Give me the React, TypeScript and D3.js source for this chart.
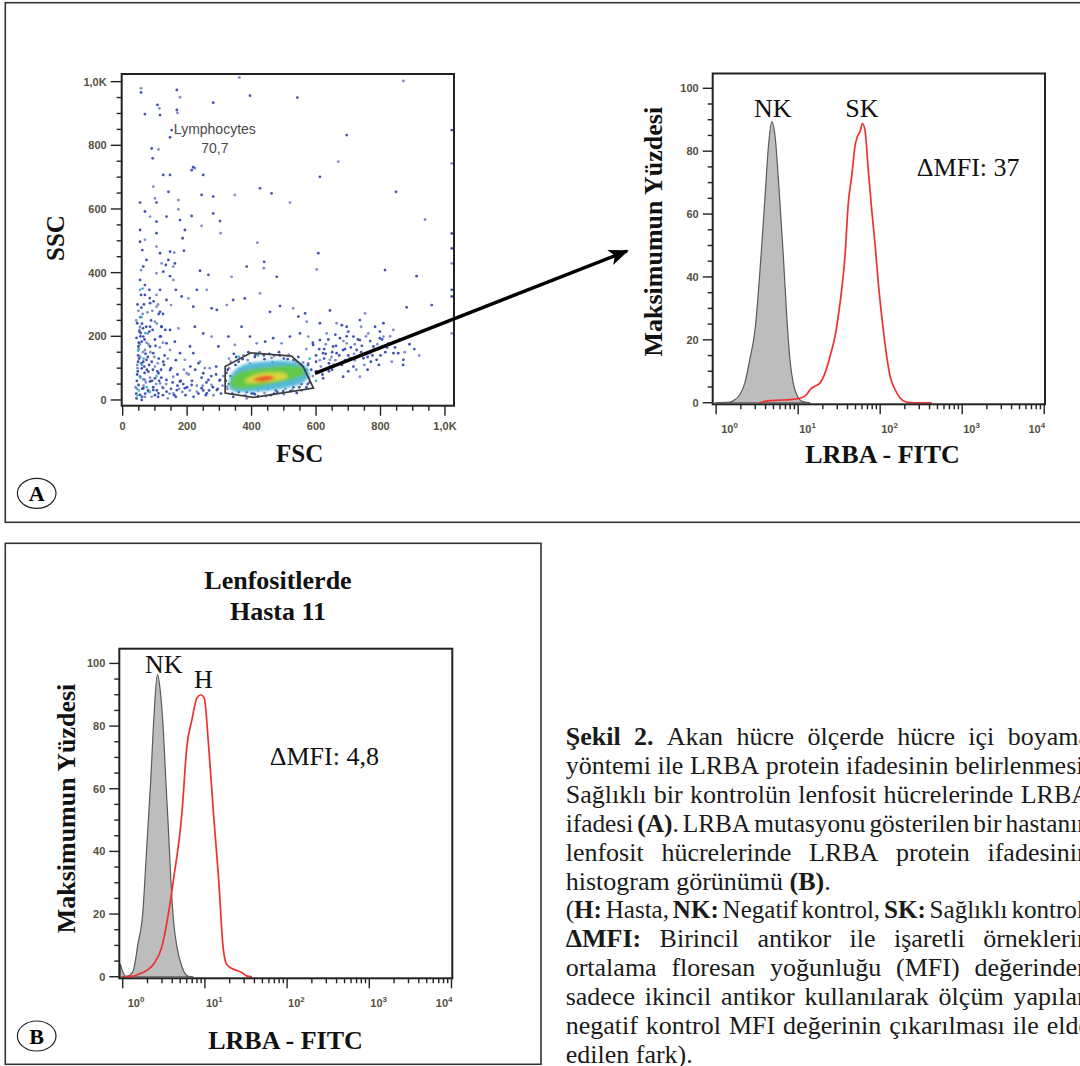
import React, { useEffect, useRef } from 'react';
import * as d3 from 'd3';

type Pt = [number, number];

// ---- scatter (FSC, SSC) events ----
const eventsBlue: Pt[] = [
  [57, 979], [57, 966], [168, 974], [178, 951], [69, 898], [108, 927], [114, 916], [116, 895], [168, 911], [170, 902],
  [147, 825], [90, 790], [111, 787], [152, 848], [281, 934], [362, 1013], [395, 956], [542, 950], [871, 1002], [93, 759],
  [219, 731], [224, 728], [214, 722], [250, 707], [95, 670], [126, 707], [147, 707], [100, 633], [105, 620], [142, 654],
  [173, 628], [245, 644], [281, 639], [348, 644], [426, 665], [462, 649], [519, 620], [612, 701], [695, 832], [669, 749],
  [848, 654], [1021, 848], [1021, 743], [54, 620], [69, 592], [85, 576], [105, 560], [54, 534], [69, 503], [105, 524],
  [136, 576], [173, 599], [178, 565], [214, 578], [245, 547], [281, 586], [302, 562], [304, 524], [186, 508], [193, 534],
  [418, 494], [54, 497], [61, 471], [105, 482], [116, 461], [147, 466], [160, 463], [190, 469], [142, 440], [121, 429],
  [134, 424], [162, 429], [157, 419], [74, 440], [64, 419], [57, 408], [54, 377], [69, 361], [105, 398], [126, 403],
  [147, 389], [157, 377], [240, 406], [266, 393], [338, 387], [385, 419], [439, 434], [438, 414], [478, 387], [607, 461],
  [602, 410], [814, 408], [912, 389], [938, 567], [1021, 523], [1021, 476], [1021, 429], [1021, 346], [1021, 325],
  [54, 346], [69, 330], [83, 346], [105, 330], [116, 346], [85, 304], [105, 293], [116, 277], [136, 314], [150, 298],
  [165, 346], [183, 325], [204, 319], [219, 293], [230, 346], [261, 346], [276, 288], [292, 283], [323, 298], [343, 314],
  [379, 319], [426, 335], [457, 277], [488, 295], [529, 288], [545, 262], [566, 272], [571, 246], [612, 241], [643, 281],
  [664, 241], [695, 230], [736, 251], [752, 272], [783, 230], [809, 241], [840, 220], [881, 291], [959, 298], [1021, 209],
  [871, 126], [855, 147], [809, 199], [798, 215],
  [45, 241], [54, 230], [52, 215], [64, 199], [77, 209], [59, 183], [49, 168], [69, 157], [85, 168], [95, 147],
  [54, 136], [64, 120], [74, 126], [45, 110], [59, 99], [80, 89], [100, 105], [111, 84], [54, 73], [69, 63],
  [85, 58], [100, 68], [116, 52], [49, 47], [64, 37], [80, 26], [95, 31], [111, 21], [126, 37], [136, 26],
  [54, 16], [69, 10], [43, 5], [59, 0], [90, 10], [116, 199], [136, 178], [147, 157], [162, 183], [178, 147],
  [193, 126], [209, 168], [219, 147], [240, 120], [250, 84], [266, 63], [199, 84], [178, 58], [168, 31], [157, 21],
  [193, 37], [214, 47], [230, 26], [245, 37], [261, 21], [276, 47], [292, 31], [302, 63], [323, 42], [126, 120],
  [147, 94], [157, 73], [136, 63], [85, 230], [100, 246], [121, 230], [147, 220], [173, 225], [224, 230], [250, 209],
  [276, 199], [297, 168], [328, 199], [348, 173], [369, 230], [395, 199], [416, 178], [442, 183], [467, 194], [493, 178],
  [519, 199], [550, 209], [576, 199], [591, 173], [612, 188], [633, 209], [653, 168], [674, 194], [695, 178], [716, 199],
  [736, 188], [762, 209], [778, 168], [798, 194], [824, 178], [840, 147], [622, 147], [643, 126], [664, 147], [684, 157],
  [705, 131], [726, 157], [747, 131], [767, 147], [788, 126], [684, 73], [736, 73], [529, 68], [550, 94], [576, 115],
  [602, 89], [622, 68], [643, 105], [716, 105], [343, 10], [385, 5], [364, 37], [405, 21],
  [330, 130], [345, 145], [360, 120], [375, 140], [390, 150], [410, 135], [425, 150], [440, 128], [455, 145], [470, 138],
  [485, 150], [500, 130], [515, 142], [530, 125], [545, 135], [560, 118], [575, 110], [585, 95], [590, 75], [580, 55],
  [570, 40], [555, 30], [540, 22], [520, 28], [500, 18], [480, 25], [460, 15], [440, 22], [420, 12], [400, 20],
  [380, 15], [360, 25], [340, 20], [325, 35], [320, 60], [322, 85], [330, 100], [350, 110], [365, 95], [395, 115],
  [430, 110], [465, 118], [495, 112], [525, 108], [550, 100], [565, 80], [555, 50], [530, 40], [505, 35], [475, 30],
  [450, 35], [420, 30], [395, 35], [370, 40], [345, 55], [335, 75], [600, 120], [615, 105], [625, 130], [640, 115],
  [660, 125], [680, 110], [700, 140], [720, 125], [740, 150], [760, 135], [780, 160], [800, 140], [820, 165], [720, 175],
  [690, 160], [650, 150], [750, 110], [770, 120], [610, 160], [630, 175], [660, 205], [700, 215], [740, 230], [680, 235],
  [630, 145], [600, 90], [620, 80], [650, 95], [300, 60], [290, 80], [280, 40], [310, 45], [260, 55], [250, 30],
  [230, 45], [215, 60], [200, 40], [185, 25], [170, 45], [150, 35], [135, 50], [120, 70], [125, 15], [140, 5],
  [160, 15], [180, 60], [205, 80], [225, 95], [245, 70], [270, 100],
  [42, 20], [44, 60], [46, 100], [48, 140], [50, 180], [52, 220], [55, 260], [58, 290], [40, 40], [45, 80],
  [48, 120], [50, 160], [55, 200], [60, 240], [62, 270], [66, 300], [70, 20], [72, 55], [75, 95], [78, 135],
  [80, 175], [83, 215], [88, 250], [92, 280], [96, 310], [100, 15], [104, 50], [108, 90], [112, 130], [115, 165],
  [118, 200], [60, 10], [65, 45], [68, 85], [58, 115], [63, 150], [68, 190], [73, 230], [42, 250], [46, 300],
  [100, 190], [106, 240], [112, 270], [120, 230], [125, 180], [130, 140], [90, 120], [85, 70], [95, 40], [110, 10],
  [44, 35], [47, 90], [51, 130], [53, 175], [56, 210], [61, 35], [64, 65], [67, 105], [71, 145], [74, 180],
  [79, 30], [82, 110], [86, 150], [91, 60], [94, 95], [98, 135], [102, 170], [106, 30], [109, 115], [113, 60],
  [119, 95], [124, 40], [128, 110], [43, 195], [49, 280], [57, 330], [63, 225], [77, 275], [84, 320], [93, 220],
  [110, 300], [125, 270], [132, 220],
  [145, 20], [155, 55], [165, 10], [175, 35], [188, 50], [195, 15], [208, 30], [220, 10], [235, 20], [248, 45],
  [258, 15], [268, 30], [282, 15], [295, 35], [305, 20], [312, 75], [290, 105], [275, 75], [255, 100], [235, 115],
  [210, 105], [190, 95], [170, 80], [150, 100], [140, 130], [165, 125],
  [600, 140], [612, 125], [625, 160], [638, 190], [648, 135], [662, 170], [672, 140], [685, 185], [695, 200], [708, 165],
  [718, 145], [730, 190], [742, 170], [755, 200], [768, 185], [775, 140], [790, 175], [805, 190], [815, 150], [830, 200],
  [845, 165], [860, 190], [875, 150], [890, 175], [905, 160], [920, 140], [655, 110], [690, 125], [725, 95], [760, 95],
  [795, 110], [835, 120], [870, 110], [590, 180], [570, 160], [640, 90], [700, 90],
  [335, 120], [352, 135], [372, 128], [388, 125], [412, 142], [438, 140], [462, 132], [488, 140], [512, 128], [538, 118],
  [552, 112], [570, 95], [578, 70], [574, 50], [548, 40], [526, 32], [498, 28], [470, 20], [445, 12], [410, 18],
  [385, 25], [355, 32], [330, 50], [326, 95],
];
const eventsCyan: Pt[] = [
  [50, 30], [55, 70], [60, 110], [48, 155], [65, 130], [75, 40], [58, 260], [70, 210], [45, 15], [85, 25],
  [105, 75], [62, 350], [340, 70], [600, 60], [580, 130], [420, 140], [360, 135],
];
// density levels of the lymphocyte cluster (FSC, SSC outlines)
const densityCyan: Pt[] = [[330, 40], [340, 85], [380, 112], [450, 122], [520, 122], [565, 108], [580, 80], [560, 55], [510, 38], [440, 28], [380, 25], [340, 28]];
const densityGreen: Pt[] = [[335, 45], [345, 75], [390, 95], [450, 103], [520, 108], [560, 100], [565, 82], [530, 66], [470, 52], [410, 40], [360, 35]];
const densityYellow: Pt[] = [[378, 58], [405, 78], [455, 86], [500, 85], [512, 74], [490, 63], [440, 56], [395, 53]];
const densityRed: Pt[] = [[405, 63], [425, 73], [455, 76], [472, 70], [455, 62], [425, 59]];
const lymphGate: Pt[] = [[318, 105], [398, 148], [524, 138], [560, 105], [592, 37], [405, 8], [318, 22]];
const gateName = 'Lymphocytes';
const gatePercent = '70,7';
const scatterTicks = [0, 200, 400, 600, 800, 1000];
const scatterTickLabels = ['0', '200', '400', '600', '800', '1,0K'];

// ---- histograms (LRBA-FITC intensity, % of max) ----
const nkA: Pt[] = [
  [0.95, 0], [1.48, 0.2], [1.7, 1.0], [1.95, 2.6], [2.24, 6.3], [2.57, 13.7], [2.98, 23.2], [3.43, 42.3], [3.95, 65.6],
  [4.34, 81.5], [4.76, 89.4], [5.24, 84.6], [5.75, 70.9], [6.6, 46.6], [7.26, 27.5], [7.94, 13.7], [8.7, 6.3],
  [9.6, 2.6], [11, 0.5], [14, 0],
];
const skA: Pt[] = [
  [3.4, 0], [4.1, 0.5], [6.0, 0.8], [8.0, 1.0], [11.0, 1.6], [12.7, 2.6], [14.0, 4.2], [16.1, 5.3], [18.5, 6.3],
  [21.3, 9.5], [24.5, 14.8], [28.2, 21.2], [32.4, 31.7], [37.2, 46.5], [40.9, 63.5], [45.0, 72], [49.3, 81.5],
  [52.6, 84.6], [56.8, 86.2], [60.6, 88.8], [65.3, 86.7], [71.7, 74], [78.8, 61.4], [86.4, 50.8], [94.9, 38.1],
  [109, 23.3], [120, 14.8], [132, 8.5], [152, 4.2], [174, 1.6], [210, 0.2], [253, 0], [425, 0],
];
const nkB: Pt[] = [
  [0.93, 4.2], [1.0, 1.6], [1.1, 0.1], [1.23, 0.6], [1.35, 2.1], [1.43, 5.3], [1.51, 9.6], [1.75, 20.2], [1.96, 41.5],
  [2.19, 62.8], [2.41, 84.1], [2.64, 96.5], [2.85, 91.7], [3.13, 77.8], [3.34, 62.8], [3.6, 46.8], [3.85, 30.9],
  [4.14, 18.1], [4.56, 9.6], [5.25, 3.2], [6.31, 0.1], [7.26, 0],
];
const hB: Pt[] = [
  [1.0, 0], [1.35, 0.2], [1.63, 1.0], [1.96, 2.0], [2.41, 4.2], [2.99, 9.6], [3.6, 20.2], [4.14, 30.9], [5.25, 52.2],
  [6.03, 73.5], [6.94, 82.0], [7.99, 89.0], [8.93, 90.0], [9.8, 89.0], [11.1, 73.5], [12.7, 52.2], [14.7, 30.9],
  [16.6, 9.6], [18.2, 4.2], [21.3, 2.6], [24.5, 2.0], [28.3, 1.3], [32.5, 0.2], [37.4, 0],
];
const histYTicks = [0, 20, 40, 60, 80, 100];
const histXDecades = [1, 10, 100, 1000, 10000];

const captionLines = [
  { text: '{Şekil} {2.} Akan hücre ölçerde hücre içi boyama', justify: true },
  { text: 'yöntemi ile LRBA protein ifadesinin belirlenmesi.', justify: true },
  { text: 'Sağlıklı bir kontrolün lenfosit hücrelerinde LRBA', justify: true },
  { text: 'ifadesi {(A)}. LRBA mutasyonu gösterilen bir hastanın', justify: true },
  { text: 'lenfosit hücrelerinde LRBA protein ifadesinin', justify: true },
  { text: 'histogram görünümü {(B)}.', justify: false },
  { text: '({H:} Hasta, {NK:} Negatif kontrol, {SK:} Sağlıklı kontrol,', justify: true },
  { text: '{ΔMFI:} Birincil antikor ile işaretli örneklerin', justify: true },
  { text: 'ortalama floresan yoğunluğu (MFI) değerinden', justify: true },
  { text: 'sadece ikincil antikor kullanılarak ölçüm yapılan', justify: true },
  { text: 'negatif kontrol MFI değerinin çıkarılması ile elde', justify: true },
  { text: 'edilen fark).', justify: false },
];

const SERIF = '"Liberation Serif", "Times New Roman", serif';
const SANS = '"Liberation Sans", Arial, sans-serif';
const TICK_TXT = '#54503e';
const INK = '#222';

function ScatterPanel() {
  const x = d3.scaleLinear().domain([-3, 1028]).range([121.7, 454]);
  const y = d3.scaleLinear().domain([-18, 1024]).range([405.7, 74]);
  const [x0, x1] = x.range();
  const [yb, yt] = y.range();
  const minor = d3.range(0, 1001, 50);
  const blob = d3.line<Pt>().x(d => x(d[0])).y(d => y(d[1])).curve(d3.curveCatmullRomClosed);
  const gate = d3.line<Pt>().x(d => x(d[0])).y(d => y(d[1])).curve(d3.curveLinearClosed);
  const levels: [Pt[], string][] = [
    [densityCyan, '#55b8d8'], [densityGreen, '#62c848'], [densityYellow, '#d9d83a'], [densityRed, '#ec4a26'],
  ];
  return (
    <g>
      <defs>
        <filter id="soft" x="-20%" y="-50%" width="140%" height="200%">
          <feGaussianBlur stdDeviation="1.8" />
        </filter>
      </defs>
      {eventsBlue.map((d, i) => (
        <circle key={i} cx={x(d[0])} cy={y(d[1])} r={1.4} fill="#2b43a8" opacity={i % 3 === 0 ? 0.6 : 0.9} />
      ))}
      {eventsCyan.map((d, i) => (
        <circle key={i} cx={x(d[0])} cy={y(d[1])} r={1.4} fill="#3fb6d0" />
      ))}
      <g filter="url(#soft)">
        {levels.map(([pts, c], i) => <path key={i} d={blob(pts) || ''} fill={c} />)}
      </g>
      <path d={gate(lymphGate) || ''} fill="none" stroke="#3c3c3c" strokeWidth={1.7} />
      <text x={x(286)} y={134} textAnchor="middle" fontFamily={SANS} fontSize={14} fill="#4a4a4a">{gateName}</text>
      <text x={x(286)} y={153.3} textAnchor="middle" fontFamily={SANS} fontSize={14} fill="#4a4a4a">{gatePercent}</text>
      <rect x={x0} y={yt} width={x1 - x0} height={yb - yt} fill="none" stroke={INK} strokeWidth={2} />
      {minor.map(v => {
        const major = v % 200 === 0;
        return (
          <g key={v}>
            <line x1={x0 - (major ? 11 : 5)} x2={x0} y1={y(v)} y2={y(v)} stroke={INK} strokeWidth={1.4} />
            <line x1={x(v)} x2={x(v)} y1={yb} y2={yb + (major ? 10 : 5)} stroke={INK} strokeWidth={1.4} />
          </g>
        );
      })}
      {scatterTicks.map((v, i) => (
        <g key={v} fontFamily={SANS} fontSize={11} fontWeight="bold" fill={TICK_TXT}>
          <text x={x0 - 15} y={y(v) + 4} textAnchor="end">{scatterTickLabels[i]}</text>
          <text x={x(v)} y={430} textAnchor="middle">{scatterTickLabels[i]}</text>
        </g>
      ))}
      <text x={299.7} y={461.7} textAnchor="middle" fontFamily={SERIF} fontWeight="bold" fontSize={25} fill="#111">FSC</text>
      <text transform="translate(64,238) rotate(-90)" textAnchor="middle" fontFamily={SERIF} fontWeight="bold" fontSize={25} fill="#111">SSC</text>
    </g>
  );
}

type HistProps = {
  left: number; top: number; width: number; height: number;
  neg: Pt[]; pos: Pt[];
  negLabel: string; posLabel: string;
  negAt: Pt; posAt: Pt; mfi: string; mfiAt: Pt;
  yLabelAt: Pt; xLabelAt: Pt;
};

function Histogram(p: HistProps) {
  const x = d3.scaleLog().domain([10 ** -0.042, 10 ** 4.01]).range([p.left, p.left + p.width]);
  const y = d3.scaleLinear().domain([-0.5, 104.7]).range([p.top + p.height, p.top]);
  const area = d3.area<Pt>().x(d => x(d[0])).y0(y(0)).y1(d => y(d[1])).curve(d3.curveMonotoneX);
  const line = d3.line<Pt>().x(d => x(d[0])).y(d => y(d[1])).curve(d3.curveMonotoneX);
  const yMinor = d3.range(0, 101, 5);
  const xMinor = histXDecades.slice(0, -1).flatMap(d => d3.range(2, 10).map(k => d * k));
  const x0 = p.left, yb = p.top + p.height;
  return (
    <g>
      <path d={area(p.neg) || ''} fill="#bdbdbd" stroke="#5a5a5a" strokeWidth={1.2} />
      <path d={line(p.pos) || ''} fill="none" stroke="#f03030" strokeWidth={1.7} />
      <rect x={p.left} y={p.top} width={p.width} height={p.height} fill="none" stroke={INK} strokeWidth={2} />
      {yMinor.map(v => (
        <line key={v} x1={x0 - (v % 20 === 0 ? 10 : 5)} x2={x0} y1={y(v)} y2={y(v)} stroke={INK} strokeWidth={1.4} />
      ))}
      {histYTicks.map(v => (
        <text key={v} x={x0 - 14} y={y(v) + 4} textAnchor="end" fontFamily={SANS} fontSize={11} fontWeight="bold" fill={TICK_TXT}>{v}</text>
      ))}
      {xMinor.map(v => (
        <line key={v} x1={x(v)} x2={x(v)} y1={yb} y2={yb + 5} stroke={INK} strokeWidth={1.4} />
      ))}
      {histXDecades.map((v, i) => {
        const last = i === histXDecades.length - 1;
        const tx = x(v) + (i === 0 ? 5 : 1);
        return (
          <g key={v}>
            <line x1={x(v)} x2={x(v)} y1={yb} y2={yb + 10} stroke={INK} strokeWidth={1.4} />
            <text x={tx} y={yb + 29} textAnchor={last ? 'end' : 'start'} fontFamily={SANS} fontSize={11} fontWeight="bold" fill={TICK_TXT}>
              10<tspan dy={-5} fontSize={8}>{Math.round(Math.log10(v))}</tspan>
            </text>
          </g>
        );
      })}
      <g fontFamily={SERIF} fontSize={26} fill="#111">
        <text x={x(p.negAt[0])} y={y(p.negAt[1])} textAnchor="middle">{p.negLabel}</text>
        <text x={x(p.posAt[0])} y={y(p.posAt[1])} textAnchor="middle">{p.posLabel}</text>
        <text x={x(p.mfiAt[0])} y={y(p.mfiAt[1])}>{p.mfi}</text>
      </g>
      <g fontFamily={SERIF} fontWeight="bold" fontSize={26} fill="#111">
        <text transform={`translate(${p.yLabelAt[0]},${p.yLabelAt[1]}) rotate(-90)`} textAnchor="middle">Maksimumun Yüzdesi</text>
        <text x={p.xLabelAt[0]} y={p.xLabelAt[1]} textAnchor="middle">LRBA - FITC</text>
      </g>
    </g>
  );
}

function parseWord(w: string) {
  const runs: { t: string; b: boolean }[] = [];
  const re = /\{([^}]*)\}|([^{]+)/g;
  let m: RegExpExecArray | null;
  while ((m = re.exec(w))) {
    if (m[1] !== undefined) runs.push({ t: m[1], b: true });
    else runs.push({ t: m[2], b: false });
  }
  return runs;
}

function Caption() {
  const ref = useRef<SVGGElement>(null);
  const left = 565.7, right = 1090, top = 745.3, lead = 28.85;
  useEffect(() => {
    if (!ref.current) return;
    const root = d3.select(ref.current);
    root.selectAll('*').remove();
    captionLines.forEach((ln, i) => {
      const g = root.append('g');
      const words = ln.text.split(' ');
      const nodes = words.map(w => {
        const t = g.append('text')
          .attr('font-family', SERIF).attr('font-size', 26).attr('fill', '#1a1a1a');
        parseWord(w).forEach(r => {
          t.append('tspan').attr('font-weight', r.b ? 'bold' : 'normal').text(r.t);
        });
        return t;
      });
      const widths = nodes.map(n => (n.node() as SVGTextElement).getComputedTextLength());
      const total = d3.sum(widths);
      const avail = right - left;
      let gap = 6.5;
      let scale = 1;
      if (ln.justify && words.length > 1) {
        gap = (avail - total) / (words.length - 1);
        if (gap < 4) {
          gap = 4;
          scale = avail / (total + gap * (words.length - 1));
        }
      }
      let cx = 0;
      nodes.forEach((n, j) => {
        n.attr('x', cx).attr('y', 0);
        cx += widths[j] + gap;
      });
      g.attr('transform', `translate(${left},${top + i * lead}) scale(${scale},1)`);
    });
  }, []);
  return <g ref={ref} />;
}

export default function App() {
  return (
    <svg width={1080} height={1066} viewBox="0 0 1080 1066"
      style={{ position: 'absolute', left: 0, top: 0, background: '#fff' }}>
      <rect x={0} y={0} width={1080} height={1066} fill="#fff" />
      {/* panel frames */}
      <rect x={5.3} y={2.7} width={1100} height={519.6} fill="none" stroke="#333" strokeWidth={1.6} />
      <rect x={5.3} y={543.3} width={535.7} height={521} fill="none" stroke="#333" strokeWidth={1.6} />

      <ScatterPanel />

      <defs>
        <marker id="head" markerUnits="userSpaceOnUse" markerWidth={20} markerHeight={16} refX={18} refY={8} orient="auto">
          <path d="M0,0 L20,8 L0,16 L5,8 z" fill="#000" />
        </marker>
      </defs>
      <line x1={315} y1={373.3} x2={627} y2={251} stroke="#000" strokeWidth={3.4} markerEnd="url(#head)" />

      <Histogram
        left={712.7} top={73.5} width={332.3} height={330.8}
        neg={nkA} pos={skA} negLabel="NK" posLabel="SK"
        negAt={[4.9, 91]} posAt={[60, 91]} mfi="ΔMFI: 37" mfiAt={[280, 72.2]}
        yLabelAt={[661.7, 231.7]} xLabelAt={[882.5, 463.3]}
      />
      <Histogram
        left={119.3} top={648.7} width={333} height={329.6}
        neg={nkB} pos={hB} negLabel="NK" posLabel="H"
        negAt={[3.16, 97]} posAt={[9.6, 92.2]} mfi="ΔMFI: 4,8" mfiAt={[61.4, 67.5]}
        yLabelAt={[74.5, 808.5]} xLabelAt={[285.5, 1049.3]}
      />
      <g fontFamily={SERIF} fontWeight="bold" fontSize={26} fill="#111" textAnchor="middle">
        <text x={278} y={589.3}>Lenfositlerde</text>
        <text x={278} y={620}>Hasta 11</text>
      </g>

      {/* panel letters */}
      <ellipse cx={36.7} cy={493.3} rx={19.3} ry={15} fill="none" stroke="#222" strokeWidth={1.2} />
      <text x={36.7} y={501} textAnchor="middle" fontFamily={SERIF} fontWeight="bold" fontSize={22}>A</text>
      <ellipse cx={36.7} cy={1036} rx={19.3} ry={15} fill="none" stroke="#222" strokeWidth={1.2} />
      <text x={36.7} y={1043.7} textAnchor="middle" fontFamily={SERIF} fontWeight="bold" fontSize={22}>B</text>

      <Caption />
    </svg>
  );
}
